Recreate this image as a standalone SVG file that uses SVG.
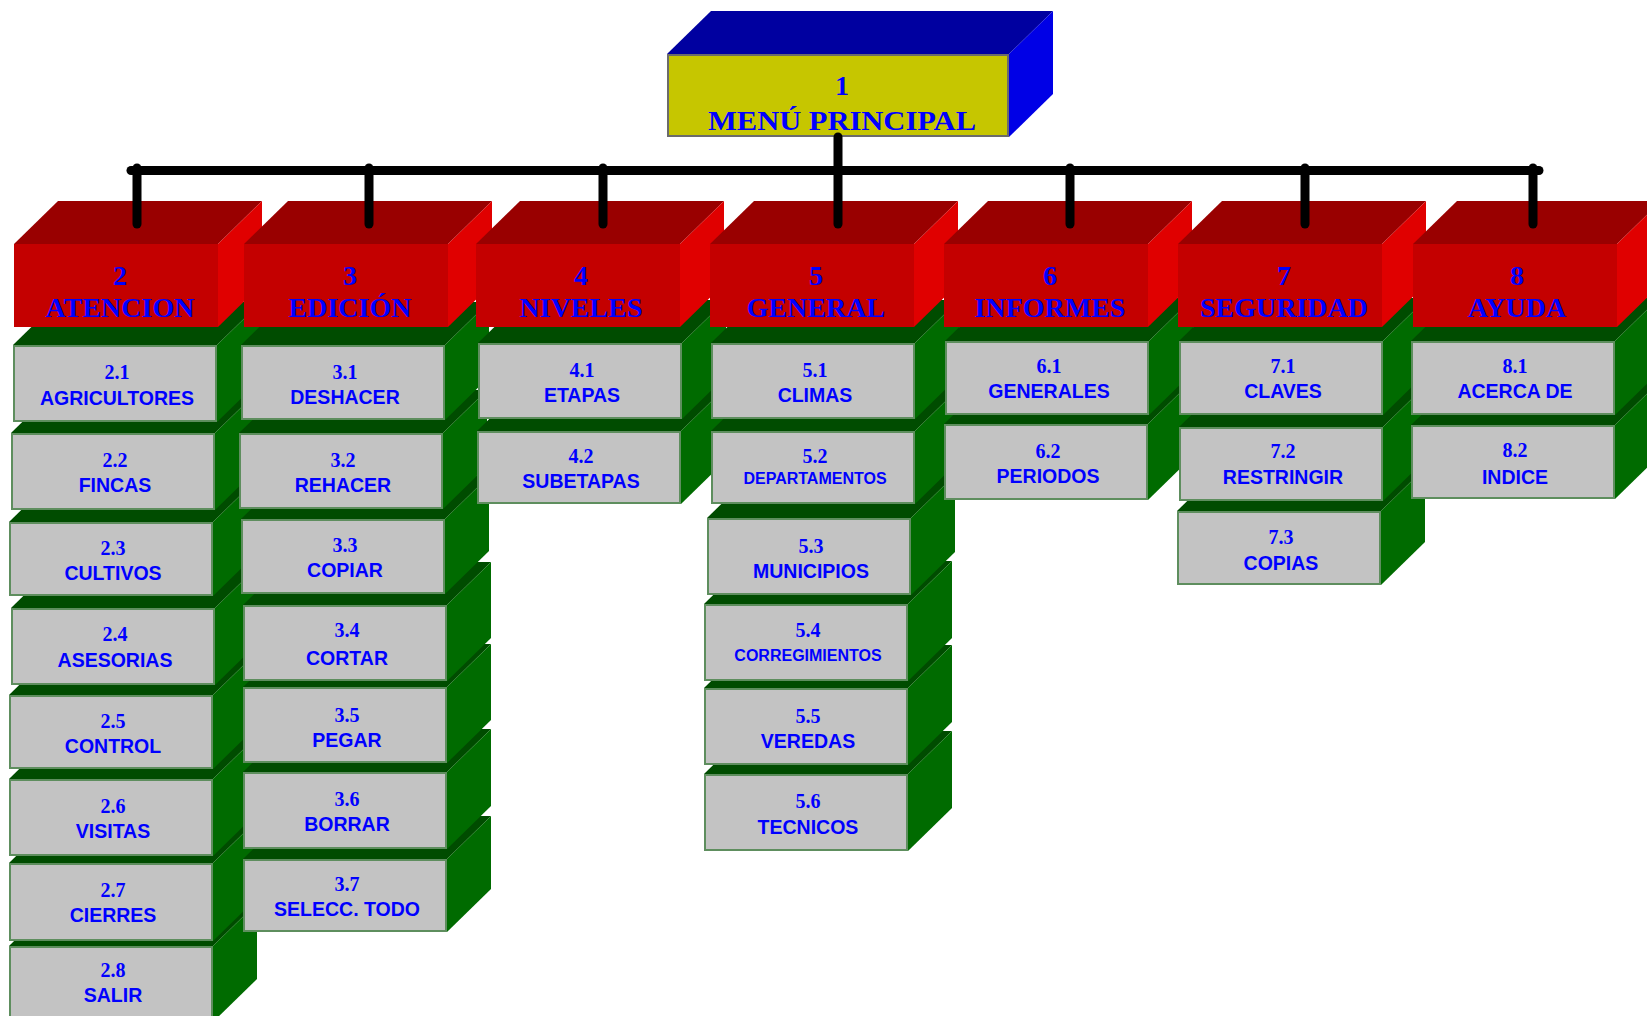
<svg xmlns="http://www.w3.org/2000/svg" width="1647" height="1016" viewBox="0 0 1647 1016">
<style>
.gt{fill:#004c00}
.gs{fill:#006b00}
.gf{fill:#c3c3c3;stroke:#5e8e5e;stroke-width:2}
.rt{fill:#990000}
.rs{fill:#e00000}
.rf{fill:#c40000}
.num{font-family:"Liberation Serif","Times New Roman",serif;font-weight:bold;font-size:20px;fill:#0000ff;text-anchor:middle}
.lab{font-family:"Liberation Sans",Arial,sans-serif;font-weight:bold;font-size:19.5px;fill:#0000ff;text-anchor:middle}
.labs{font-family:"Liberation Sans",Arial,sans-serif;font-weight:bold;font-size:16px;fill:#0000ff;text-anchor:middle}
.hd{font-family:"Liberation Serif","Times New Roman",serif;font-weight:bold;font-size:28px;fill:#0000ff;text-anchor:middle}
.con{stroke:#000;stroke-width:9;stroke-linecap:round;fill:none}
</style>
<rect width="1647" height="1016" fill="#fff"/>

<!-- Column 2 (drawn bottom to top) -->
<g id="n2-8"><polygon class="gt" points="9,946 53,903 257,903 213,946"/><polygon class="gs" points="213,946 257,903 257,979 213,1022"/><rect class="gf" x="10" y="947" width="202" height="75"/><text class="num" x="113" y="977">2.8</text><text class="lab" x="113" y="1002">SALIR</text></g>
<g id="n2-7"><polygon class="gt" points="9,863 53,820 257,820 213,863"/><polygon class="gs" points="213,863 257,820 257,898 213,941"/><rect class="gf" x="10" y="864" width="202" height="76"/><text class="num" x="113" y="897">2.7</text><text class="lab" x="113" y="922">CIERRES</text></g>
<g id="n2-6"><polygon class="gt" points="9,779 53,736 257,736 213,779"/><polygon class="gs" points="213,779 257,736 257,813 213,856"/><rect class="gf" x="10" y="780" width="202" height="75"/><text class="num" x="113" y="813">2.6</text><text class="lab" x="113" y="838">VISITAS</text></g>
<g id="n2-5"><polygon class="gt" points="9,695 53,652 257,652 213,695"/><polygon class="gs" points="213,695 257,652 257,726 213,769"/><rect class="gf" x="10" y="696" width="202" height="72"/><text class="num" x="113" y="728">2.5</text><text class="lab" x="113" y="753">CONTROL</text></g>
<g id="n2-4"><polygon class="gt" points="11,608 55,565 259,565 215,608"/><polygon class="gs" points="215,608 259,565 259,642 215,685"/><rect class="gf" x="12" y="609" width="202" height="75"/><text class="num" x="115" y="641">2.4</text><text class="lab" x="115" y="667">ASESORIAS</text></g>
<g id="n2-3"><polygon class="gt" points="9,522 53,479 257,479 213,522"/><polygon class="gs" points="213,522 257,479 257,553 213,596"/><rect class="gf" x="10" y="523" width="202" height="72"/><text class="num" x="113" y="555">2.3</text><text class="lab" x="113" y="580">CULTIVOS</text></g>
<g id="n2-2"><polygon class="gt" points="11,433 55,390 259,390 215,433"/><polygon class="gs" points="215,433 259,390 259,467 215,510"/><rect class="gf" x="12" y="434" width="202" height="75"/><text class="num" x="115" y="467">2.2</text><text class="lab" x="115" y="492">FINCAS</text></g>
<g id="n2-1"><polygon class="gt" points="13,345 57,302 261,302 217,345"/><polygon class="gs" points="217,345 261,302 261,379 217,422"/><rect class="gf" x="14" y="346" width="202" height="75"/><text class="num" x="117" y="379">2.1</text><text class="lab" x="117" y="405">AGRICULTORES</text></g>
<g id="n2"><polygon class="rt" points="14,244 58,201 262,201 218,244"/><polygon class="rs" points="218,244 262,201 262,284 218,327"/><rect class="rf" x="14" y="244" width="204" height="83"/><text class="hd" x="120" y="285">2</text><text class="hd" x="120" y="317">ATENCION</text></g>

<!-- Column 3 -->
<g id="n3-7"><polygon class="gt" points="243,859 287,816 491,816 447,859"/><polygon class="gs" points="447,859 491,816 491,889 447,932"/><rect class="gf" x="244" y="860" width="202" height="71"/><text class="num" x="347" y="891">3.7</text><text class="lab" x="347" y="916">SELECC. TODO</text></g>
<g id="n3-6"><polygon class="gt" points="243,772 287,729 491,729 447,772"/><polygon class="gs" points="447,772 491,729 491,806 447,849"/><rect class="gf" x="244" y="773" width="202" height="75"/><text class="num" x="347" y="806">3.6</text><text class="lab" x="347" y="831">BORRAR</text></g>
<g id="n3-5"><polygon class="gt" points="243,687 287,644 491,644 447,687"/><polygon class="gs" points="447,687 491,644 491,720 447,763"/><rect class="gf" x="244" y="688" width="202" height="74"/><text class="num" x="347" y="722">3.5</text><text class="lab" x="347" y="747">PEGAR</text></g>
<g id="n3-4"><polygon class="gt" points="243,605 287,562 491,562 447,605"/><polygon class="gs" points="447,605 491,562 491,638 447,681"/><rect class="gf" x="244" y="606" width="202" height="74"/><text class="num" x="347" y="637">3.4</text><text class="lab" x="347" y="665">CORTAR</text></g>
<g id="n3-3"><polygon class="gt" points="241,519 285,476 489,476 445,519"/><polygon class="gs" points="445,519 489,476 489,551 445,594"/><rect class="gf" x="242" y="520" width="202" height="73"/><text class="num" x="345" y="552">3.3</text><text class="lab" x="345" y="577">COPIAR</text></g>
<g id="n3-2"><polygon class="gt" points="239,433 283,390 487,390 443,433"/><polygon class="gs" points="443,433 487,390 487,466 443,509"/><rect class="gf" x="240" y="434" width="202" height="74"/><text class="num" x="343" y="467">3.2</text><text class="lab" x="343" y="492">REHACER</text></g>
<g id="n3-1"><polygon class="gt" points="241,345 285,302 489,302 445,345"/><polygon class="gs" points="445,345 489,302 489,377 445,420"/><rect class="gf" x="242" y="346" width="202" height="73"/><text class="num" x="345" y="379">3.1</text><text class="lab" x="345" y="404">DESHACER</text></g>
<g id="n3"><polygon class="rt" points="244,244 288,201 492,201 448,244"/><polygon class="rs" points="448,244 492,201 492,284 448,327"/><rect class="rf" x="244" y="244" width="204" height="83"/><text class="hd" x="350" y="285">3</text><text class="hd" x="350" y="317">EDICIÓN</text></g>

<!-- Column 4 -->
<g id="n4-2"><polygon class="gt" points="477,431 521,388 725,388 681,431"/><polygon class="gs" points="681,431 725,388 725,461 681,504"/><rect class="gf" x="478" y="432" width="202" height="71"/><text class="num" x="581" y="463">4.2</text><text class="lab" x="581" y="488">SUBETAPAS</text></g>
<g id="n4-1"><polygon class="gt" points="478,343 522,300 726,300 682,343"/><polygon class="gs" points="682,343 726,300 726,376 682,419"/><rect class="gf" x="479" y="344" width="202" height="74"/><text class="num" x="582" y="377">4.1</text><text class="lab" x="582" y="402">ETAPAS</text></g>
<g id="n4"><polygon class="rt" points="476,244 520,201 724,201 680,244"/><polygon class="rs" points="680,244 724,201 724,284 680,327"/><rect class="rf" x="476" y="244" width="204" height="83"/><text class="hd" x="581" y="285">4</text><text class="hd" x="581" y="317">NIVELES</text></g>

<!-- Column 5 -->
<g id="n5-6"><polygon class="gt" points="704,774 748,731 952,731 908,774"/><polygon class="gs" points="908,774 952,731 952,808 908,851"/><rect class="gf" x="705" y="775" width="202" height="75"/><text class="num" x="808" y="808">5.6</text><text class="lab" x="808" y="834">TECNICOS</text></g>
<g id="n5-5"><polygon class="gt" points="704,688 748,645 952,645 908,688"/><polygon class="gs" points="908,688 952,645 952,722 908,765"/><rect class="gf" x="705" y="689" width="202" height="75"/><text class="num" x="808" y="723">5.5</text><text class="lab" x="808" y="748">VEREDAS</text></g>
<g id="n5-4"><polygon class="gt" points="704,604 748,561 952,561 908,604"/><polygon class="gs" points="908,604 952,561 952,638 908,681"/><rect class="gf" x="705" y="605" width="202" height="75"/><text class="num" x="808" y="637">5.4</text><text class="labs" x="808" y="661">CORREGIMIENTOS</text></g>
<g id="n5-3"><polygon class="gt" points="707,518 751,475 955,475 911,518"/><polygon class="gs" points="911,518 955,475 955,552 911,595"/><rect class="gf" x="708" y="519" width="202" height="75"/><text class="num" x="811" y="553">5.3</text><text class="lab" x="811" y="578">MUNICIPIOS</text></g>
<g id="n5-2"><polygon class="gt" points="711,431 755,388 959,388 915,431"/><polygon class="gs" points="915,431 959,388 959,461 915,504"/><rect class="gf" x="712" y="432" width="202" height="71"/><text class="num" x="815" y="463">5.2</text><text class="labs" x="815" y="484">DEPARTAMENTOS</text></g>
<g id="n5-1"><polygon class="gt" points="711,343 755,300 959,300 915,343"/><polygon class="gs" points="915,343 959,300 959,376 915,419"/><rect class="gf" x="712" y="344" width="202" height="74"/><text class="num" x="815" y="377">5.1</text><text class="lab" x="815" y="402">CLIMAS</text></g>
<g id="n5"><polygon class="rt" points="710,244 754,201 958,201 914,244"/><polygon class="rs" points="914,244 958,201 958,284 914,327"/><rect class="rf" x="710" y="244" width="204" height="83"/><text class="hd" x="816" y="285">5</text><text class="hd" x="816" y="317">GENERAL</text></g>

<!-- Column 6 -->
<g id="n6-2"><polygon class="gt" points="944,424 988,381 1192,381 1148,424"/><polygon class="gs" points="1148,424 1192,381 1192,457 1148,500"/><rect class="gf" x="945" y="425" width="202" height="74"/><text class="num" x="1048" y="458">6.2</text><text class="lab" x="1048" y="483">PERIODOS</text></g>
<g id="n6-1"><polygon class="gt" points="945,341 989,298 1193,298 1149,341"/><polygon class="gs" points="1149,341 1193,298 1193,372 1149,415"/><rect class="gf" x="946" y="342" width="202" height="72"/><text class="num" x="1049" y="373">6.1</text><text class="lab" x="1049" y="398">GENERALES</text></g>
<g id="n6"><polygon class="rt" points="944,244 988,201 1192,201 1148,244"/><polygon class="rs" points="1148,244 1192,201 1192,284 1148,327"/><rect class="rf" x="944" y="244" width="204" height="83"/><text class="hd" x="1050" y="285">6</text><text class="hd" x="1050" y="317">INFORMES</text></g>

<!-- Column 7 -->
<g id="n7-3"><polygon class="gt" points="1177,511 1221,468 1425,468 1381,511"/><polygon class="gs" points="1381,511 1425,468 1425,542 1381,585"/><rect class="gf" x="1178" y="512" width="202" height="72"/><text class="num" x="1281" y="544">7.3</text><text class="lab" x="1281" y="570">COPIAS</text></g>
<g id="n7-2"><polygon class="gt" points="1179,427 1223,384 1427,384 1383,427"/><polygon class="gs" points="1383,427 1427,384 1427,458 1383,501"/><rect class="gf" x="1180" y="428" width="202" height="72"/><text class="num" x="1283" y="458">7.2</text><text class="lab" x="1283" y="484">RESTRINGIR</text></g>
<g id="n7-1"><polygon class="gt" points="1179,341 1223,298 1427,298 1383,341"/><polygon class="gs" points="1383,341 1427,298 1427,372 1383,415"/><rect class="gf" x="1180" y="342" width="202" height="72"/><text class="num" x="1283" y="373">7.1</text><text class="lab" x="1283" y="398">CLAVES</text></g>
<g id="n7"><polygon class="rt" points="1178,244 1222,201 1426,201 1382,244"/><polygon class="rs" points="1382,244 1426,201 1426,284 1382,327"/><rect class="rf" x="1178" y="244" width="204" height="83"/><text class="hd" x="1284" y="285">7</text><text class="hd" x="1284" y="317">SEGURIDAD</text></g>

<!-- Column 8 -->
<g id="n8-2"><polygon class="gt" points="1411,425 1455,382 1659,382 1615,425"/><polygon class="gs" points="1615,425 1659,382 1659,456 1615,499"/><rect class="gf" x="1412" y="426" width="202" height="72"/><text class="num" x="1515" y="457">8.2</text><text class="lab" x="1515" y="484">INDICE</text></g>
<g id="n8-1"><polygon class="gt" points="1411,341 1455,298 1659,298 1615,341"/><polygon class="gs" points="1615,341 1659,298 1659,372 1615,415"/><rect class="gf" x="1412" y="342" width="202" height="72"/><text class="num" x="1515" y="373">8.1</text><text class="lab" x="1515" y="398">ACERCA DE</text></g>
<g id="n8"><polygon class="rt" points="1413,244 1457,201 1661,201 1617,244"/><polygon class="rs" points="1617,244 1661,201 1661,284 1617,327"/><rect class="rf" x="1413" y="244" width="204" height="83"/><text class="hd" x="1517" y="285">8</text><text class="hd" x="1517" y="317">AYUDA</text></g>

<!-- Main node -->
<g id="n1"><polygon fill="#0000a0" points="667,54 711,11 1053,11 1009,54"/><polygon fill="#0000e6" points="1009,54 1053,11 1053,94 1009,137"/><rect x="668" y="55" width="340" height="81" fill="#c6c600" stroke="#6b6b6b" stroke-width="2"/><text class="hd" x="842" y="95">1</text><text class="hd" x="842" y="130" textLength="268" lengthAdjust="spacingAndGlyphs">MENÚ PRINCIPAL</text></g>

<!-- Connectors -->
<g id="connectors">
<line class="con" x1="131" y1="170.5" x2="1539" y2="170.5"/>
<line class="con" x1="838" y1="137" x2="838" y2="224"/>
<line class="con" x1="137" y1="168" x2="137" y2="224"/>
<line class="con" x1="369" y1="168" x2="369" y2="224"/>
<line class="con" x1="603" y1="168" x2="603" y2="224"/>
<line class="con" x1="1070" y1="168" x2="1070" y2="224"/>
<line class="con" x1="1305" y1="168" x2="1305" y2="224"/>
<line class="con" x1="1533" y1="168" x2="1533" y2="224"/>
</g>
</svg>
